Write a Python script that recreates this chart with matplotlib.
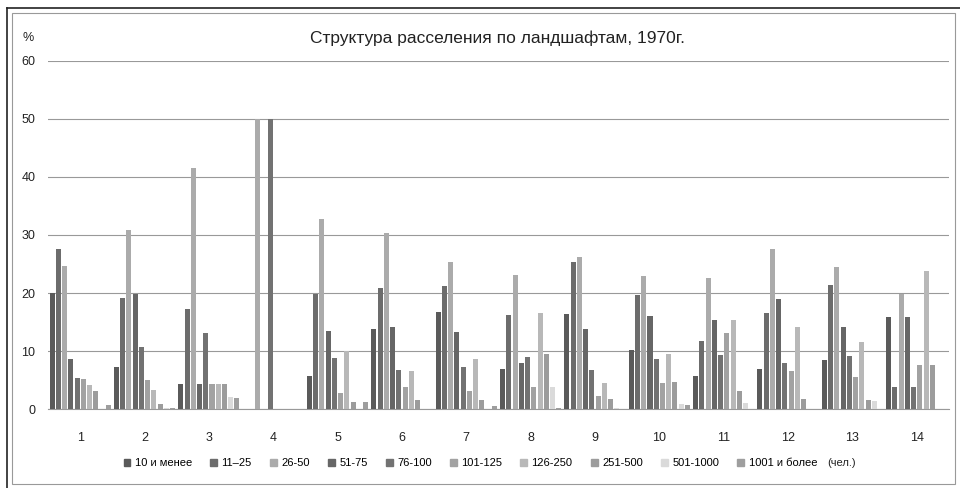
import numpy as np
import matplotlib.pyplot as plt
from matplotlib.patches import Rectangle
from matplotlib.lines import Line2D

plt.rcParams['font.family'] = ['Liberation Sans', 'DejaVu Sans']

# ландшафты 1..14
landscapes = [str(i) for i in range(1, 15)]

# доли поселений по группам людности, %
s_10 = [20.0, 7.2, 4.3, 0, 5.7, 13.8, 16.8, 6.9, 16.4, 10.2, 5.7, 6.9, 8.5, 15.8]
s_11_25 = [27.6, 19.1, 17.3, 0, 19.9, 20.8, 21.2, 16.2, 25.3, 19.6, 11.8, 16.6, 21.4, 3.8]
s_26_50 = [24.7, 30.8, 41.6, 50, 32.7, 30.3, 25.3, 23.2, 26.2, 22.9, 22.6, 27.6, 24.5, 19.9]
s_51_75 = [8.7, 19.9, 4.3, 0, 13.4, 14.2, 13.3, 8.0, 13.9, 16.1, 15.4, 19.0, 14.2, 15.8]
s_76_100 = [5.3, 10.7, 13.1, 50, 8.9, 6.7, 7.2, 9.0, 6.8, 8.6, 9.3, 8.0, 9.2, 3.8]
s_101_125 = [5.2, 5.0, 4.3, 0, 2.8, 3.8, 3.2, 3.8, 2.3, 4.6, 13.1, 6.6, 5.5, 7.7]
s_126_250 = [4.2, 3.4, 4.3, 0, 10.1, 6.6, 8.6, 16.6, 4.5, 9.5, 15.4, 14.1, 11.5, 23.8]
s_251_500 = [3.1, 0.9, 4.3, 0, 1.2, 1.6, 1.6, 9.5, 1.8, 4.7, 3.2, 1.8, 1.6, 7.7]
s_501_1000 = [0, 0.2, 2.1, 0, 0, 0.1, 0, 3.8, 0.3, 0.9, 1.0, 0, 1.4, 0]
s_1001 = [0.8, 0.3, 2.0, 0, 1.2, 0, 0.6, 0.3, 0, 0.8, 0, 0, 0.1, 0]

series = [s_10, s_11_25, s_26_50, s_51_75, s_76_100,
          s_101_125, s_126_250, s_251_500, s_501_1000, s_1001]
labels = ['10 и менее', '11–25', '26-50', '51-75', '76-100',
          '101-125', '126-250', '251-500', '501-1000', '1001 и более']
colors = ['#5a5a5a', '#6c6c6c', '#ababab', '#666666', '#727272',
          '#a2a2a2', '#b8b8b8', '#9c9c9c', '#dadada', '#9e9e9e']

fig = plt.figure(figsize=(9.6, 4.88), dpi=100)
ax = fig.add_axes([0.05, 0.1613, 0.9385, 0.7143])

x = np.arange(len(landscapes))
slot = 0.097
width = 0.078
for i, (vals, lab, col) in enumerate(zip(series, labels, colors)):
    ax.bar(x + (i - 4.5) * slot, vals, width, color=col, label=lab, zorder=3)

ax.set_xlim(-0.5, len(landscapes) - 0.5)
ax.set_ylim(0, 60)
ax.set_yticks(range(0, 61, 10))
ax.set_xticks(x)
ax.set_xticklabels(landscapes)
ax.tick_params(length=0, labelsize=9, colors='#222222')
ax.tick_params(axis='x', pad=16)
ax.tick_params(axis='y', pad=9)
ax.grid(axis='y', color='#999999', linewidth=0.8, zorder=0)
for s in ['top', 'right', 'left']:
    ax.spines[s].set_visible(False)
ax.spines['bottom'].set_color('#999999')

fig.text(0.518, 0.922, 'Структура расселения по ландшафтам, 1970г.',
         ha='center', va='center', fontsize=12.5, color='#222222')
fig.text(0.023, 0.922, '%', ha='left', va='center', fontsize=9, color='#222222')

handles = [Rectangle((0, 0), 1, 1, color=c) for c in colors]
leg = fig.legend(handles, labels, loc='center', bbox_to_anchor=(0.49, 0.051),
                 ncol=10, frameon=False, fontsize=8, handlelength=0.6,
                 handleheight=0.6, handletextpad=0.4, columnspacing=1.65)
fig.text(0.877, 0.051, '(чел.)', ha='center', va='center', fontsize=8,
         color='#222222')

# рамка
fig.add_artist(Rectangle((0.0125, 0.008), 0.982, 0.965, transform=fig.transFigure,
                         fill=False, edgecolor='#999999', linewidth=0.8))
fig.add_artist(Line2D([0.0075, 0.0075], [0.0, 0.984], transform=fig.transFigure,
                      color='#222222', linewidth=1.2))
fig.add_artist(Line2D([0.0075, 1.0], [0.984, 0.984], transform=fig.transFigure,
                      color='#222222', linewidth=1.2))

fig.savefig('out.png', dpi=100)
